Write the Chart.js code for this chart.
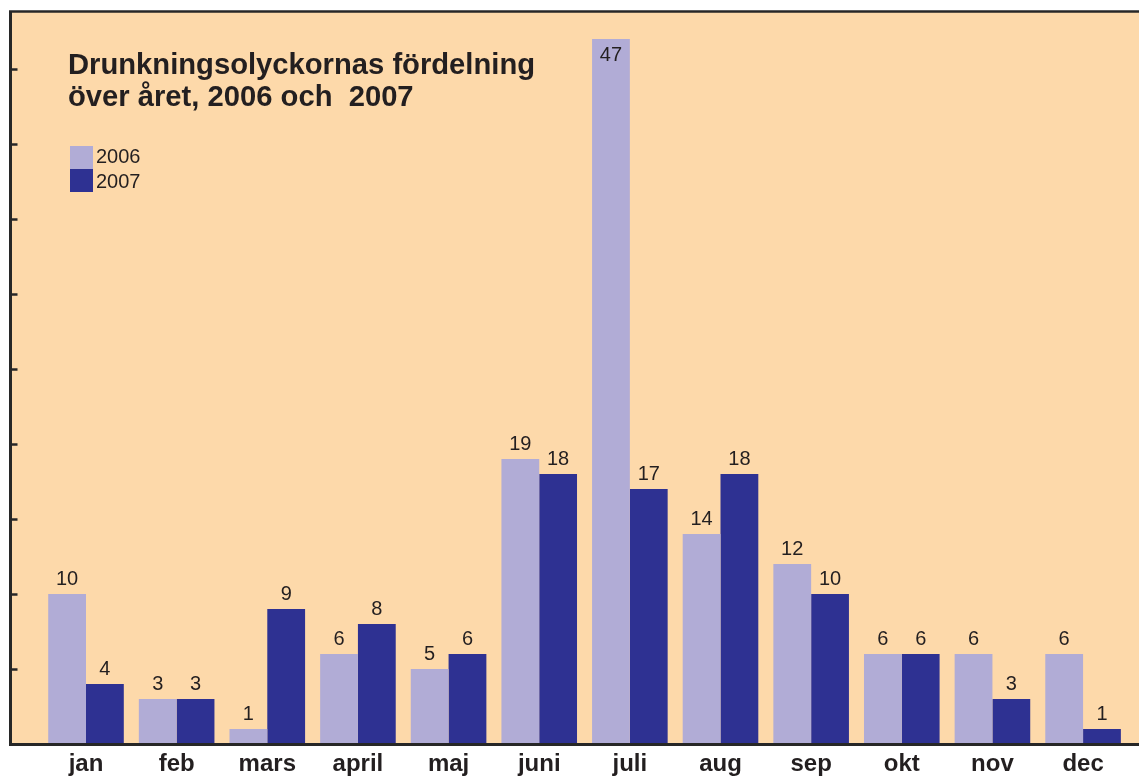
<!DOCTYPE html>
<html>
<head>
<meta charset="utf-8">
<script src="https://cdn.jsdelivr.net/npm/chart.js@4/dist/chart.umd.min.js"></script>
<style>
  html, body { margin: 0; padding: 0; background: #ffffff; }
  #wrap { width: 1139px; height: 776px; position: relative; }
  canvas { display: block; }
</style>
</head>
<body>
<div id="wrap"><canvas id="c" width="1139" height="776"></canvas></div>
<script>
// ---- data ----
const months = ['jan', 'feb', 'mars', 'april', 'maj', 'juni', 'juli', 'aug', 'sep', 'okt', 'nov', 'dec'];
const values2006 = [10, 3, 1, 6, 5, 19, 47, 14, 12, 6, 6, 6];
const values2007 = [4, 3, 9, 8, 6, 18, 17, 18, 10, 6, 3, 1];
const seriesNames = ['2006', '2007'];
const titleLines = ['Drunkningsolyckornas fördelning', 'över året, 2006 och  2007'];
const yTickStep = 5;

// ---- style ----
const FONT = '"Liberation Sans", Arial, Helvetica, sans-serif';
const INK = '#231f20';
const FRAME = '#272727';
const BG = '#fdd9aa';
const COLORS = ['#b1acd6', '#2e3192'];

const toPoints = vals => vals.map((v, i) => ({ x: i, y: v }));

const backgroundPlugin = {
  id: 'bgFrame',
  beforeDraw(chart) {
    const { ctx, chartArea: a } = chart;
    ctx.save();
    ctx.fillStyle = BG;
    ctx.fillRect(a.left, a.top, a.right - a.left, a.bottom - a.top);
    ctx.restore();
  },
  afterDraw(chart) {
    const { ctx, chartArea: a } = chart;
    ctx.save();
    // top frame line
    ctx.strokeStyle = FRAME;
    ctx.lineWidth = 2.5;
    ctx.beginPath();
    ctx.moveTo(a.left - 1.5, a.top - 0.5);
    ctx.lineTo(a.right, a.top - 0.5);
    ctx.stroke();
    // inward tick marks on the y axis
    const ys = chart.scales.y;
    ctx.lineWidth = 2.5;
    ys.ticks.forEach(t => {
      if (t.value > 0 && Math.abs(t.value % yTickStep) < 1e-9) {
        const py = Math.round(ys.getPixelForValue(t.value)) + 0.5;
        ctx.beginPath();
        ctx.moveTo(a.left, py);
        ctx.lineTo(a.left + 7, py);
        ctx.stroke();
      }
    });
    // title
    ctx.fillStyle = INK;
    ctx.font = 'bold 29.2px ' + FONT;
    ctx.textAlign = 'left';
    ctx.textBaseline = 'alphabetic';
    ctx.fillText(titleLines[0], 68, 74);
    ctx.fillText(titleLines[1], 68, 106);
    // legend
    chart.data.datasets.forEach((ds, i) => {
      const top = 146 + i * 23;
      ctx.fillStyle = ds.backgroundColor;
      ctx.fillRect(70, top, 23, 23);
      ctx.fillStyle = INK;
      ctx.font = '20px ' + FONT;
      ctx.fillText(ds.label, 96, 163 + i * 25);
    });
    ctx.restore();
  }
};

const valueLabelPlugin = {
  id: 'valueLabels',
  afterDatasetsDraw(chart) {
    const { ctx, chartArea: a } = chart;
    ctx.save();
    ctx.font = '20px ' + FONT;
    ctx.fillStyle = INK;
    ctx.textAlign = 'center';
    ctx.textBaseline = 'alphabetic';
    chart.data.datasets.forEach((ds, di) => {
      const meta = chart.getDatasetMeta(di);
      meta.data.forEach((bar, i) => {
        const v = ds.data[i].y;
        let y = bar.y - 9;
        if (y - 20 < a.top + 20) y = bar.y + 22;
        ctx.fillText(String(v), bar.x, y);
      });
    });
    ctx.restore();
  }
};

new Chart(document.getElementById('c'), {
  type: 'bar',
  data: {
    datasets: [
      { label: seriesNames[0], data: toPoints(values2006), backgroundColor: COLORS[0], borderWidth: 0 },
      { label: seriesNames[1], data: toPoints(values2007), backgroundColor: COLORS[1], borderWidth: 0 }
    ]
  },
  options: {
    responsive: false,
    animation: false,
    devicePixelRatio: 1,
    categoryPercentage: 0.834,
    barPercentage: 1.0,
    layout: { padding: { left: 10.5, top: 12, right: 0, bottom: 0 } },
    plugins: {
      legend: { display: false },
      title: { display: false },
      tooltip: { enabled: false }
    },
    scales: {
      x: {
        type: 'linear',
        offset: false,
        bounds: 'data',
        min: -0.833,
        max: 11.617,
        afterBuildTicks: s => { s.ticks = months.map((_, i) => ({ value: i })); },
        afterFit: s => { s.height = 32; },
        ticks: {
          callback: v => months[v],
          autoSkip: false,
          maxRotation: 0,
          padding: 8,
          color: INK,
          font: { family: FONT, size: 24, weight: 'bold', lineHeight: 1.0 }
        },
        grid: { display: false, drawTicks: false, offset: false },
        border: { display: true, color: FRAME, width: 3, z: 1 }
      },
      y: {
        min: 0,
        max: 48.8,
        ticks: { display: false, stepSize: yTickStep },
        grid: { display: false, drawTicks: false },
        border: { display: true, color: FRAME, width: 3, z: 1 }
      }
    }
  },
  plugins: [backgroundPlugin, valueLabelPlugin]
});
</script>
</body>
</html>
